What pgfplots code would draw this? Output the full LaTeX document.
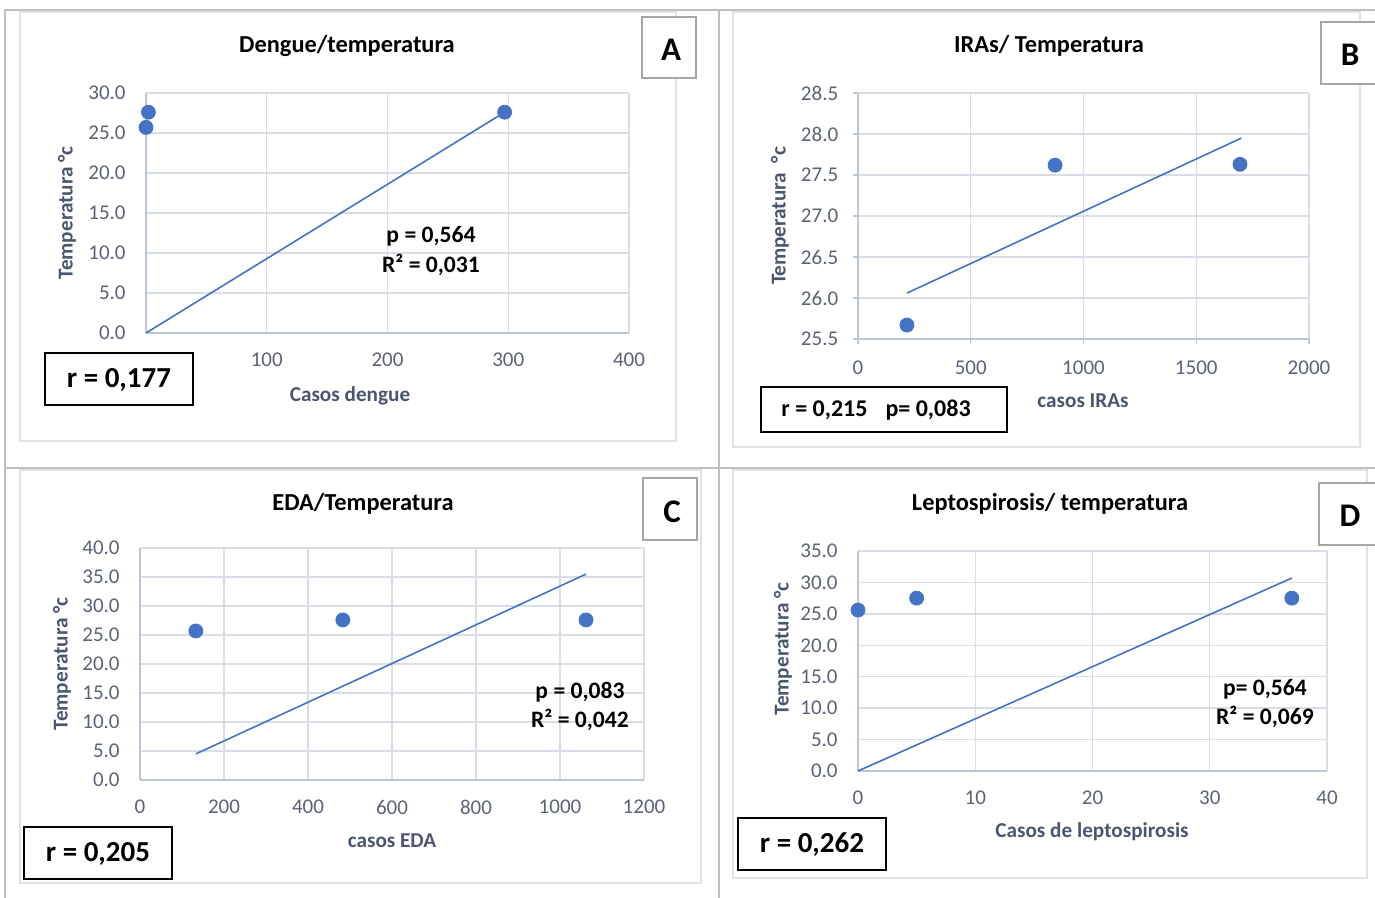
\documentclass[border=0pt]{standalone}
\usepackage{fontspec}
\setmainfont{Carlito}
\usepackage{pgfplots}
\pgfplotsset{compat=1.18}
\definecolor{pt}{HTML}{4472C4}
\definecolor{grd}{HTML}{D9DEE6}
\definecolor{axl}{HTML}{BCC6D6}
\definecolor{tkl}{HTML}{5A6275}
\definecolor{ttl}{HTML}{4A5670}
\definecolor{tbl}{HTML}{BFBFBF}
\definecolor{frm}{HTML}{DEE3EA}
\definecolor{lbx}{HTML}{A6A6A6}
\pgfplotsset{
 panel/.style={scale only axis, axis lines*=left, clip=false, anchor=south west,
  grid=major, grid style={grd, line width=0.7pt},
  axis line style={axl, line width=0.7pt},
  major tick length=0pt,
  tick label style={font=\fontsize{10.5}{12}\selectfont, text=tkl},
  yticklabel style={anchor=east, inner sep=0pt, xshift=-10pt,
    /pgf/number format/fixed, /pgf/number format/fixed zerofill, /pgf/number format/precision=1},
  xticklabel style={anchor=center, inner sep=0pt, yshift=-13.5pt,
    /pgf/number format/fixed, /pgf/number format/precision=0, /pgf/number format/1000 sep={}},
  /pgf/number format/assume math mode=true,
 },
 pts/.style={only marks, mark=*, mark size=3.5pt, mark options={fill=pt, draw=pt}},
 trend/.style={no marks, pt, line width=0.8pt},
}
\begin{document}
\begin{tikzpicture}[x=0.5pt,y=-0.5pt]
\path[use as bounding box] (0,0) rectangle (1375,898);
% table lines
\draw[tbl, line width=1pt] (5,898) -- (5,10) -- (1375,10);
\draw[tbl, line width=1pt] (719,10) -- (719,898);
\draw[tbl, line width=1pt] (5,468) -- (1375,468);
% chart frames
\draw[frm, line width=1pt] (20,12) rectangle (676,441);
\draw[frm, line width=1pt] (733,12) rectangle (1360,447);
\draw[frm, line width=1pt] (20,470) rectangle (701,883);
\draw[frm, line width=1pt] (733,470) rectangle (1367,878);

\coordinate (pA) at (146,333);
\coordinate (pB) at (858,339);
\coordinate (pC) at (140,780);
\coordinate (pD) at (858,771);

% Panel A (the 0 label is hidden behind the r box in the original)
\begin{axis}[panel, at={(pA)}, width=241.5pt, height=120pt,
  xmin=0, xmax=400, ymin=0, ymax=30,
  xtick={100,200,300,400}, ytick={0,5,10,15,20,25,30}]
\addplot[trend] coordinates {(0,0) (297,27.6)};
\addplot[pts] coordinates {(2,27.6) (0,25.7) (297,27.6)};
\end{axis}

% Panel B
\begin{axis}[panel, at={(pB)}, width=225.5pt, height=123pt,
  xmin=0, xmax=2000, ymin=25.5, ymax=28.5,
  xtick={0,500,1000,1500,2000}, ytick={25.5,26,26.5,27,27.5,28,28.5},
  major tick length=2.5pt, tick align=outside, tick style={axl, line width=0.7pt},
  yticklabel style={xshift=2.8pt}, xticklabel style={yshift=1.5pt}]
\addplot[trend] coordinates {(217,26.06) (1700,27.95)};
\addplot[pts] coordinates {(217,25.67) (874,27.62) (1694,27.63)};
\end{axis}

% Panel C
\begin{axis}[panel, at={(pC)}, width=252pt, height=116pt,
  xmin=0, xmax=1200, ymin=0, ymax=40,
  xtick={0,200,400,600,800,1000,1200}, ytick={0,5,10,15,20,25,30,35,40}]
\addplot[trend] coordinates {(133,4.5) (1062,35.5)};
\addplot[pts] coordinates {(133,25.7) (483,27.6) (1062,27.6)};
\end{axis}

% Panel D
\begin{axis}[panel, at={(pD)}, width=234.5pt, height=110pt,
  xmin=0, xmax=40, ymin=0, ymax=35,
  xtick={0,10,20,30,40}, ytick={0,5,10,15,20,25,30,35}]
\addplot[trend] coordinates {(0,0) (37,30.7)};
\addplot[pts] coordinates {(0,25.6) (5,27.5) (37,27.5)};
\end{axis}

% titles
\tikzset{ttlf/.style={font=\bfseries\fontsize{12.2}{14}\selectfont},
  axt/.style={font=\bfseries\fontsize{10.6}{12}\selectfont, text=ttl},
  stat/.style={font=\bfseries\fontsize{11.8}{13}\selectfont, align=right},
  lett/.style={font=\bfseries\fontsize{16.5}{19}\selectfont}}
\node[ttlf] at (347,46) {Dengue/temperatura};
\node[ttlf] at (1049,46) {IRAs/ Temperatura};
\node[ttlf] at (363,504) {EDA/Temperatura};
\node[ttlf] at (1050,504) {Leptospirosis/ temperatura};

% axis titles
\node[axt] at (350,396) {Casos dengue};
\node[axt] at (1083,401) {casos IRAs};
\node[axt] at (392,841) {casos EDA};
\node[axt] at (1092,832) {Casos de leptospirosis};
\node[axt, rotate=90] at (67,213) {Temperatura °c};
\node[axt, rotate=90] at (780,216) {Temperatura\ \ °c};
\node[axt, rotate=90] at (62,664) {Temperatura °c};
\node[axt, rotate=90] at (783,649) {Temperatura °c};

% stats
\node[stat] at (431,236) {p = 0,564};
\node[stat] at (431,265) {R² = 0,031};
\node[stat] at (580,692) {p = 0,083};
\node[stat] at (580,720) {R² = 0,042};
\node[stat] at (1265,689) {p= 0,564};
\node[stat] at (1265,717) {R² = 0,069};

% letter boxes
\draw[lbx, line width=1.2pt, fill=white] (642,17) rectangle (696,78);
\node[lett] at (671,50) {A};
\draw[lbx, line width=1.2pt, fill=white] (1321,22) rectangle (1378,84);
\node[lett] at (1350,55) {B};
\draw[lbx, line width=1.2pt, fill=white] (643,478) rectangle (697,540);
\node[lett] at (672,512) {C};
\draw[lbx, line width=1.2pt, fill=white] (1319,483) rectangle (1378,545);
\node[lett] at (1350,516) {D};

% r boxes
\draw[black, line width=1.2pt, fill=white] (45,353) rectangle (193,405);
\node[font=\bfseries\fontsize{14.5}{16}\selectfont] at (119,380) {r = 0,177};
\draw[black, line width=1.2pt, fill=white] (761,387) rectangle (1007,432);
\node[font=\bfseries\fontsize{12}{14}\selectfont] at (876,410) {r = 0,215\hspace{9pt}p= 0,083};
\draw[black, line width=1.2pt, fill=white] (24,827) rectangle (172,879);
\node[font=\bfseries\fontsize{14.5}{16}\selectfont] at (98,854) {r = 0,205};
\draw[black, line width=1.2pt, fill=white] (738,818) rectangle (886,870);
\node[font=\bfseries\fontsize{14.5}{16}\selectfont] at (812,845) {r = 0,262};
\end{tikzpicture}
\end{document}
